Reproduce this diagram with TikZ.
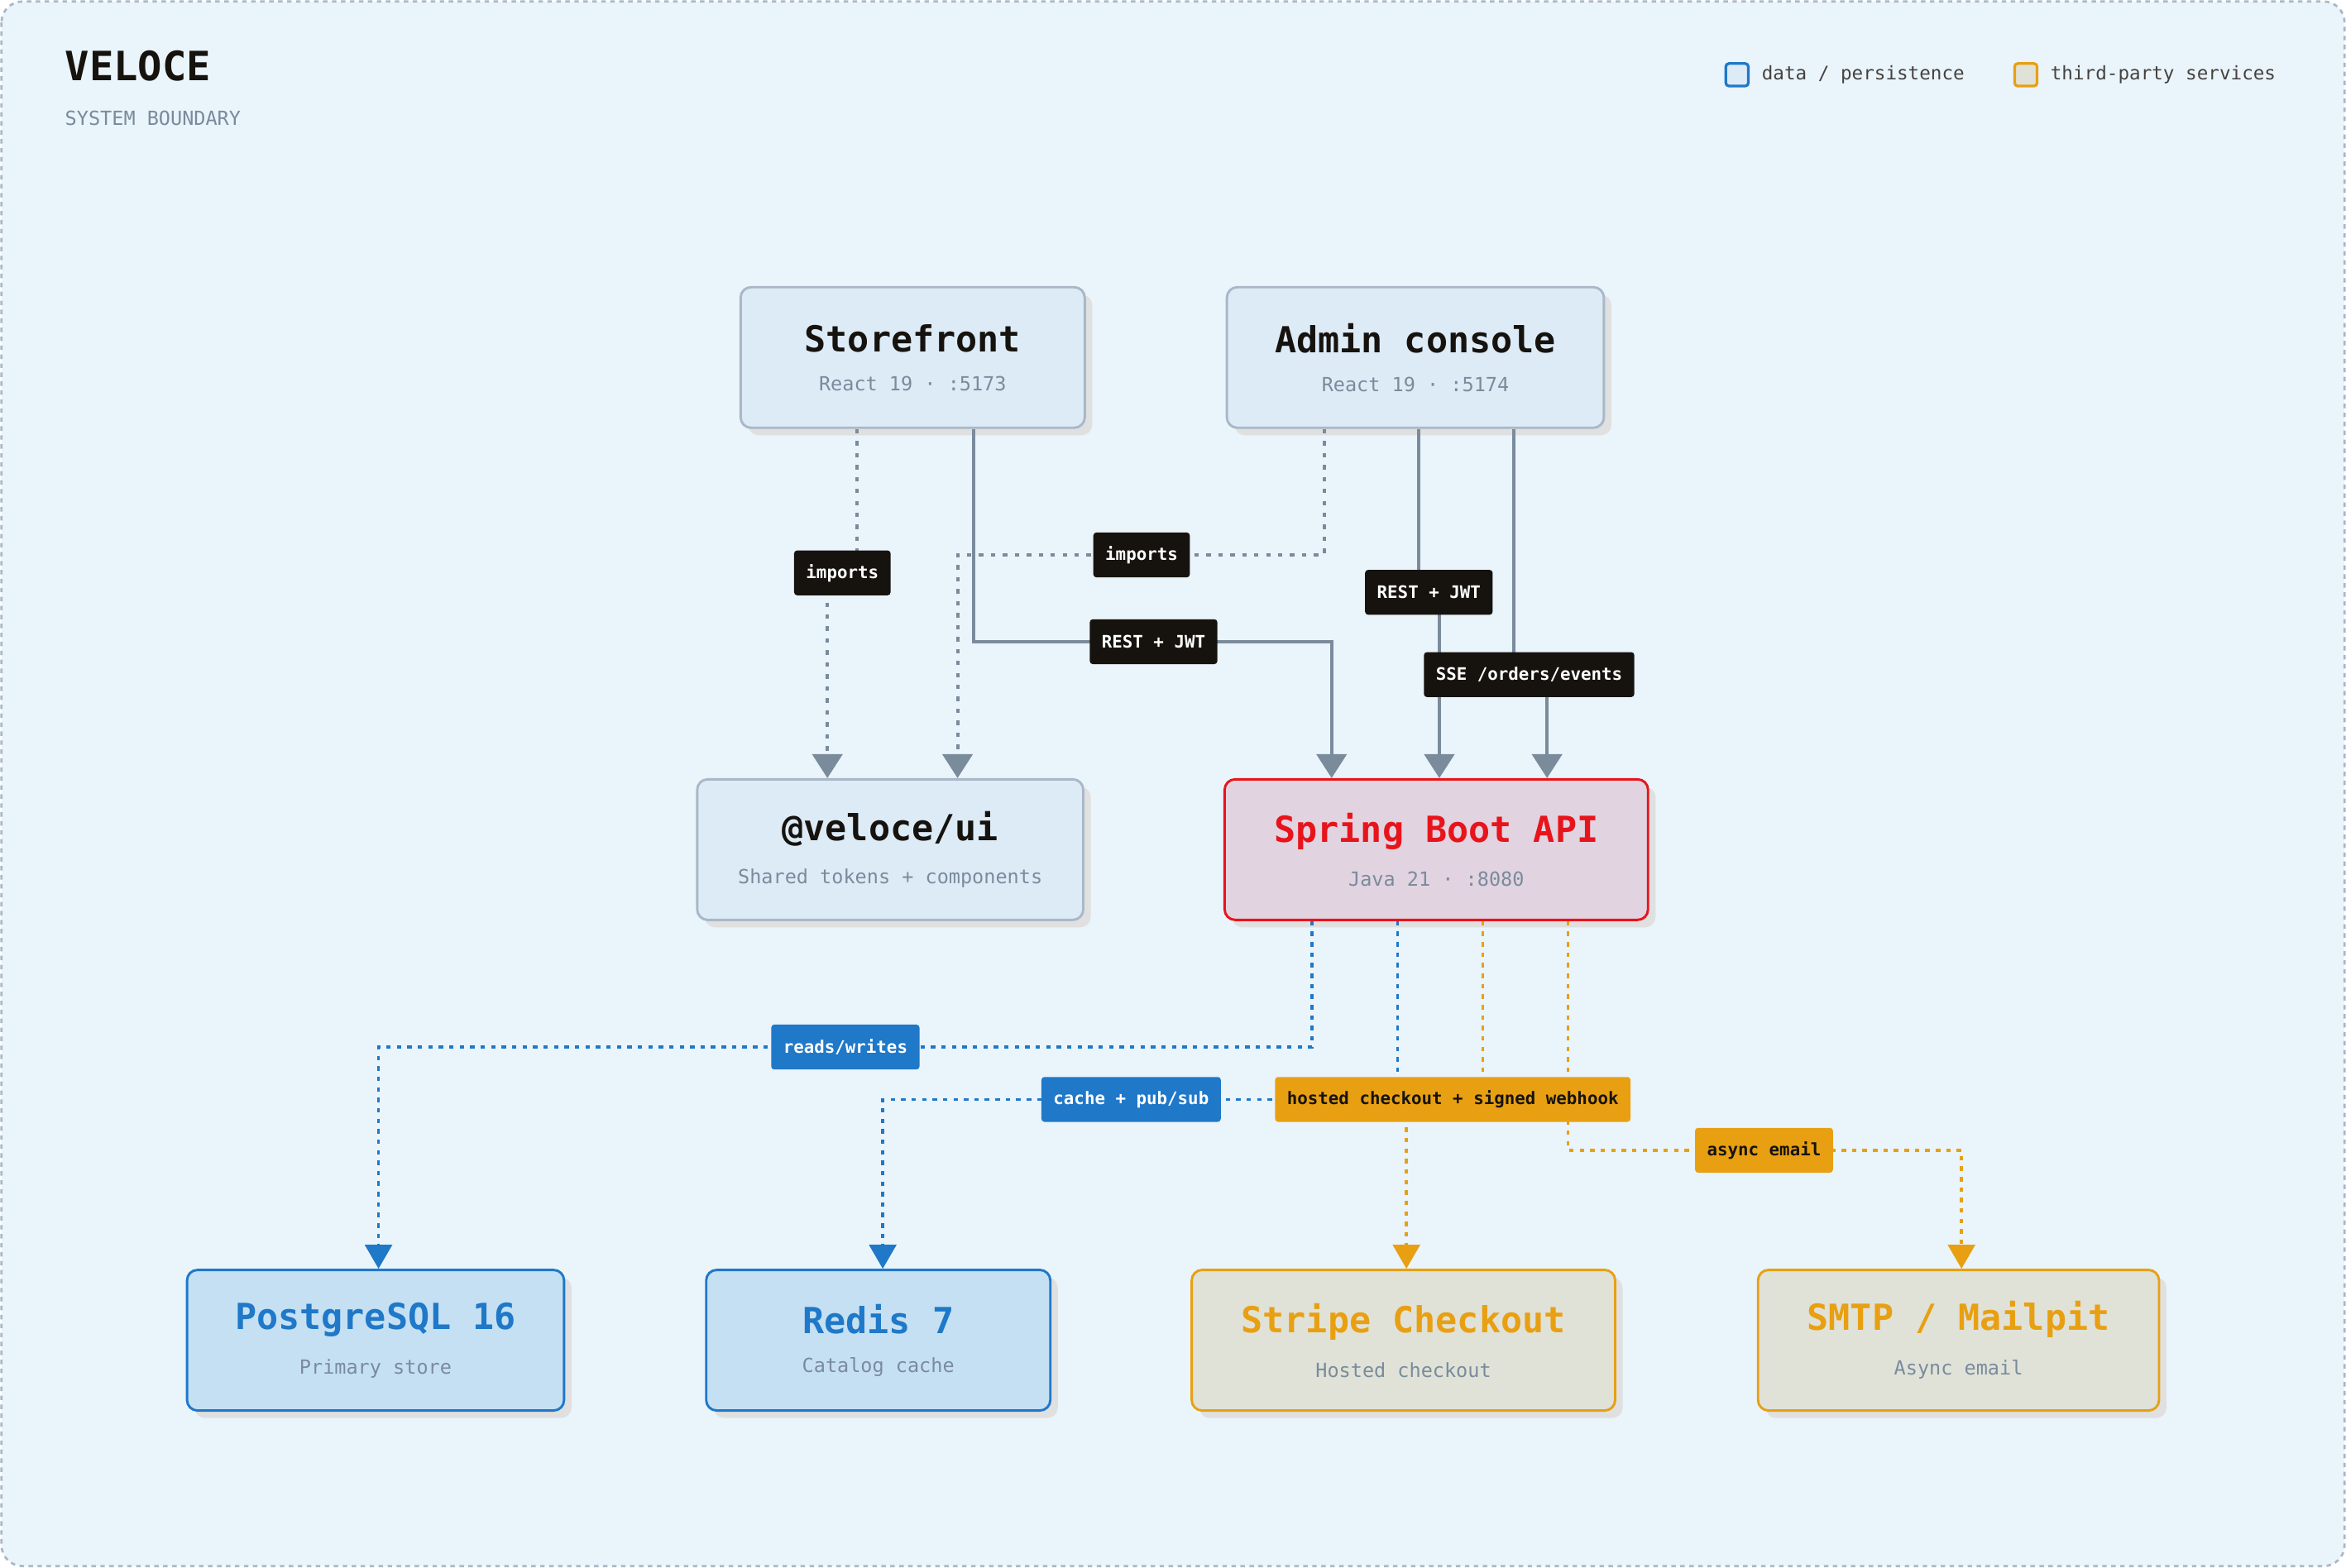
\documentclass[tikz,border=0pt]{standalone}
\usepackage{fontspec}
\setmainfont{DejaVu Sans Mono}
\usetikzlibrary{arrows.meta,shadows}
\definecolor{bgc}{HTML}{EAF4FB}
\definecolor{ink}{HTML}{16130F}
\definecolor{slate}{HTML}{7A8B9C}
\definecolor{boxfill}{HTML}{DDEBF7}
\definecolor{boxline}{HTML}{A9B8C8}
\definecolor{apifill}{HTML}{E2D3E0}
\definecolor{apiline}{HTML}{E8141B}
\definecolor{datafill}{HTML}{C5E0F3}
\definecolor{dataline}{HTML}{1F78C8}
\definecolor{extfill}{HTML}{E0E2D8}
\definecolor{extline}{HTML}{E8A012}
\tikzset{
    svc-box/.style = {draw=boxline, fill=boxfill, line width=1.6pt, rectangle, rounded corners=7pt, minimum width=#1, minimum height=94pt, align=center,
        drop shadow={shadow xshift=5pt, shadow yshift=-5pt, fill=black!12, opacity=1}},
    api-box/.style = {svc-box=#1, draw=apiline, fill=apifill},
    data-box/.style = {svc-box=#1, draw=dataline, fill=datafill},
    ext-box/.style = {svc-box=#1, draw=extline, fill=extfill},
    edge-label/.style = {fill=ink, text=white, rounded corners=2pt, inner xsep=8pt, minimum height=30pt, font=\fontsize{11.5}{11.5}\selectfont\bfseries},
    data-label/.style = {edge-label, fill=dataline},
    ext-label/.style = {edge-label, fill=extline, text=ink},
    link/.style = {draw=slate, line width=2.2pt, -{Triangle[width=20pt,length=16pt]}},
    dep-link/.style = {link, dash pattern=on 3pt off 5pt},
    data-link/.style = {draw=dataline, line width=2pt, dash pattern=on 3pt off 4pt, -{Triangle[width=18pt,length=16pt,fill=dataline]}},
    ext-link/.style = {draw=extline, line width=2pt, dash pattern=on 3pt off 4pt, -{Triangle[width=18pt,length=16pt,fill=extline]}},
}
\newcommand{\boxtext}[3]{{\fontsize{24}{24}\selectfont\bfseries\color{#1}#2}\\[14pt]{\fontsize{13}{13}\selectfont\color{slate}#3}}
\begin{document}
\begin{tikzpicture}[x=1pt, y=-1pt]
\path[use as bounding box] (0,0) rectangle (1568,1048);
\draw[fill=bgc, draw=boxline, dashed, line width=1.5pt, rounded corners=14pt] (1,1) rectangle (1567,1047);

% header and legend
\node[anchor=west, font=\fontsize{27}{27}\selectfont\bfseries, text=ink] (title) at (40,44) {VELOCE};
\node[anchor=west, font=\fontsize{13}{13}\selectfont, text=slate] (subtitle) at (40,79) {SYSTEM BOUNDARY};
\node[draw=dataline, fill=boxfill, line width=1.8pt, rounded corners=2pt, minimum size=15pt, inner sep=0pt] (keydata) at (1161,50) {};
\node[anchor=west, font=\fontsize{12.5}{12.5}\selectfont, text=ink!80] (keydatatext) at (1174,50) {data / persistence};
\node[draw=extline, fill=extfill, line width=1.8pt, rounded corners=2pt, minimum size=15pt, inner sep=0pt] (keyext) at (1354,50) {};
\node[anchor=west, font=\fontsize{12.5}{12.5}\selectfont, text=ink!80] (keyexttext) at (1367,50) {third-party services};

% services
\node[svc-box=230pt] (store) at (610,239) {\boxtext{ink}{Storefront}{React 19 · :5173}};
\node[svc-box=252pt] (admin) at (946,239) {\boxtext{ink}{Admin console}{React 19 · :5174}};
\node[svc-box=258pt] (ui) at (595,568) {\boxtext{ink}{@veloce/ui}{Shared tokens + components}};
\node[api-box=283pt] (api) at (960,568) {\boxtext{apiline}{Spring Boot API}{Java 21 · :8080}};
\node[data-box=252pt] (pg) at (251,896) {\boxtext{dataline}{PostgreSQL 16}{Primary store}};
\node[data-box=230pt] (redis) at (587,896) {\boxtext{dataline}{Redis 7}{Catalog cache}};
\node[ext-box=283pt] (stripe) at (938,896) {\boxtext{extline}{Stripe Checkout}{Hosted checkout}};
\node[ext-box=268pt] (smtp) at (1309,896) {\boxtext{extline}{SMTP / Mailpit}{Async email}};

% frontends
\draw[dep-link] (store.south -| 573,0) -- (573,383) -- (553,383) -- (ui.north -| 553,0);
\draw[dep-link] (admin.south -| 885,0) -- (885,371) -- (640,371) -- (ui.north -| 640,0);
\draw[link] (store.south -| 651,0) -- (651,429) -- (890,429) -- (api.north -| 890,0);
\draw[link] (admin.south -| 948,0) -- (948,396) -- (962,396) -- (api.north -| 962,0);
\draw[link] (admin.south -| 1012,0) -- (1012,451) -- (1034,451) -- (api.north -| 1034,0);
\node[edge-label] (imp1) at (563,383) {imports};
\node[edge-label] (imp2) at (763,371) {imports};
\node[edge-label] (rest1) at (771,429) {REST + JWT};
\node[edge-label] (rest2) at (955,396) {REST + JWT};
\node[edge-label] (sse) at (1022,451) {SSE /orders/events};

% backends
\draw[data-link] (api.south -| 877,0) -- (877,700) -- (253,700) -- (pg.north -| 253,0);
\draw[data-link] (api.south -| 934,0) -- (934,735) -- (590,735) -- (redis.north -| 590,0);
\draw[ext-link] (api.south -| 991,0) -- (991,735) -- (940,735) -- (stripe.north -| 940,0);
\draw[ext-link] (api.south -| 1048,0) -- (1048,769) -- (1311,769) -- (smtp.north -| 1311,0);
\node[data-label] (rw) at (565,700) {reads/writes};
\node[data-label] (cache) at (756,735) {cache + pub/sub};
\node[ext-label] (hosted) at (971,735) {hosted checkout + signed webhook};
\node[ext-label] (mail) at (1179,769) {async email};
\end{tikzpicture}
\end{document}
